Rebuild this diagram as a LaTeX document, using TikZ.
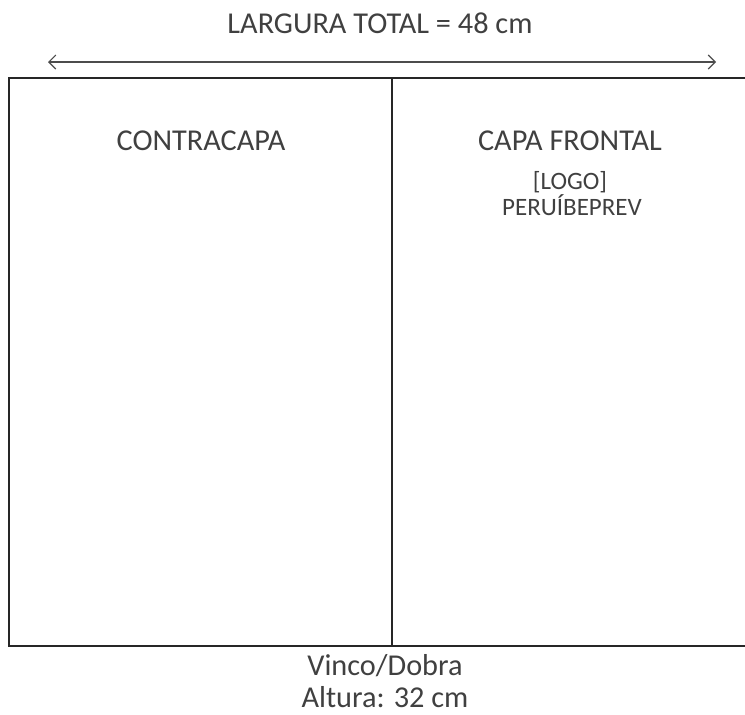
\documentclass[tikz,border=0pt]{standalone}
\usepackage{fontspec}
\setmainfont{Carlito}
\usetikzlibrary{arrows.meta}
\begin{document}
\begin{tikzpicture}[x=1pt,y=-1pt,
  lbl/.style={inner sep=0pt, anchor=base, text=black!75, font=\fontsize{30.3}{34}\selectfont},
  small/.style={inner sep=0pt, anchor=base, text=black!75, font=\fontsize{25}{29}\selectfont},
  box/.style={draw=black!85, line width=1.6pt},
  dim/.style={draw=black!70, line width=1.1pt, {Straight Barb[length=7pt,width=14pt]}-{Straight Barb[length=7pt,width=14pt]}}]
\useasboundingbox (0,0) rectangle (745,715);
\coordinate (tl) at (9,78);
\coordinate (br) at (746,646);
\draw[box] (tl) rectangle (br);
\coordinate (ft) at (392,78);
\coordinate (fb) at (392,646);
\draw[box, line width=1.2pt] (ft) -- (fb);
\coordinate (al) at (48,62);
\coordinate (ar) at (716,62);
\draw[dim] (al) -- (ar);
\node[lbl] (title) at (380,33) {LARGURA TOTAL = 48 cm};
\node[lbl] (cc) at (201,150) {CONTRACAPA};
\node[lbl] (cf) at (570,150) {CAPA FRONTAL};
\node[small] (logo) at (570,189) {[LOGO]};
\node[small] (pp) at (572,215) {PERUÍBEPREV};
\node[lbl] (vd) at (385,675) {Vinco/Dobra};
\node[lbl] (alt) at (385,707) {Altura: 32 cm};
\end{tikzpicture}
\end{document}
